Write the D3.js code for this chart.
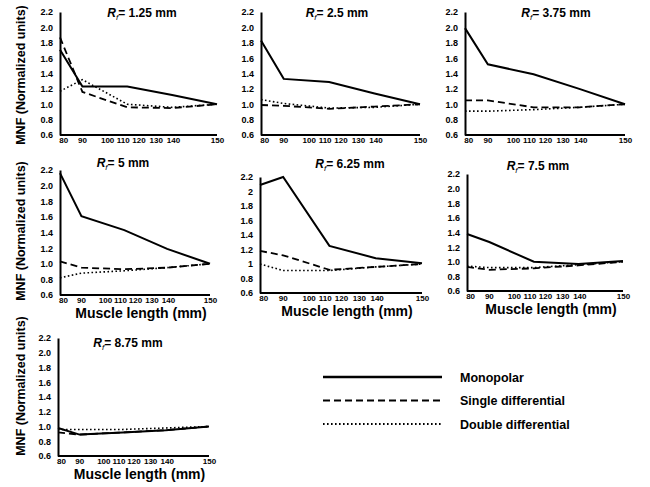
<!DOCTYPE html>
<html>
<head>
<meta charset="utf-8">
<script src="https://cdn.jsdelivr.net/npm/d3@7/dist/d3.min.js"></script>
<style>
  body { margin: 0; background: #fff; }
  svg { font-family: "Liberation Sans", Arial, sans-serif; font-weight: bold; }
</style>
</head>
<body>
<svg id="canvas" width="650" height="487"></svg>
<script>
// muscle lengths (mm) where MNF was computed
const lengths = [80, 90, 110, 130, 150]
const xTicks = [80, 90, 100, 110, 120, 130, 140, 150]
const yTicks = [0.6, 0.8, 1.0, 1.2, 1.4, 1.6, 1.8, 2.0, 2.2]

// fibre radius of each panel
const radii = ["1.25", "2.5", "3.75", "5", "6.25", "7.5", "8.75"]

// MNF (normalized) per panel, one value per muscle length
const monopolar = [
  [1.71, 1.23, 1.23, 1.12, 1.00],
  [1.83, 1.33, 1.29, 1.14, 1.00],
  [1.99, 1.52, 1.39, 1.20, 1.00],
  [2.16, 1.61, 1.43, 1.19, 1.00],
  [2.09, 2.20, 1.25, 1.08, 1.01],
  [1.38, 1.27, 1.00, 0.97, 1.01],
  [0.98, 0.89, 0.92, 0.95, 1.00]
]
const singleDiff = [
  [1.87, 1.16, 0.96, 0.95, 1.00],
  [0.99, 0.98, 0.94, 0.97, 1.00],
  [1.05, 1.05, 0.96, 0.96, 1.00],
  [1.03, 0.95, 0.93, 0.95, 1.00],
  [1.18, 1.12, 0.92, 0.96, 1.00],
  [0.93, 0.89, 0.91, 0.95, 1.00],
  [0.92, 0.89, 0.92, 0.95, 1.00]
]
const doubleDiff = [
  [1.17, 1.32, 1.00, 0.96, 1.00],
  [1.06, 1.01, 0.95, 0.96, 1.00],
  [0.91, 0.91, 0.93, 0.96, 1.00],
  [0.82, 0.88, 0.91, 0.95, 1.00],
  [1.00, 0.91, 0.91, 0.96, 1.00],
  [0.94, 0.92, 0.92, 0.96, 1.00],
  [0.96, 0.96, 0.96, 0.98, 1.00]
]

const seriesNames = ["Monopolar", "Single differential", "Double differential"]
const seriesData = [monopolar, singleDiff, doubleDiff]

// line styles
const styles = [
  { width: 2, dash: null },
  { width: 1.8, dash: "7,4" },
  { width: 1.6, dash: "1.6,2.4" }
]

// panel boxes in pixels (left, right, top = 2.2, bottom = 0.6)
const boxes = [
  { l: 60, r: 217, t: 12, b: 135, tx: 142, ty: 17, ym: 75, xl: false, fmt: ".1f" },
  { l: 261, r: 420, t: 12, b: 135, tx: 337, ty: 17, ym: null, xl: false, fmt: ".1f" },
  { l: 465, r: 625, t: 12, b: 135, tx: 556, ty: 17, ym: null, xl: false, fmt: ".1f" },
  { l: 60, r: 210, t: 170, b: 295, tx: 123, ty: 167, ym: 231, xl: true, fmt: ".1f" },
  { l: 260, r: 422, t: 177, b: 293, tx: 350, ty: 168, ym: null, xl: true, fmt: "" },
  { l: 467, r: 623, t: 174, b: 291, tx: 538, ty: 170, ym: null, xl: true, fmt: ".1f" },
  { l: 58, r: 209, t: 338, b: 456, tx: 128, ty: 347, ym: 386, xl: true, fmt: ".1f" }
]

// where the x tick labels sit along the axis (fraction of the axis length)
const labelFrac = [0.02, 0.14, 0.30, 0.40, 0.50, 0.61, 0.72, 1.0]

const svg = d3.select("#canvas")

boxes.forEach((box, i) => {
  const x = d3.scaleLinear().domain([80, 150]).range([box.l, box.r])
  const y = d3.scaleLinear().domain([0.6, 2.2]).range([box.b, box.t])
  const xLab = d3.scaleLinear().domain(xTicks)
    .range(labelFrac.map(f => box.l + f * (box.r - box.l)))

  const g = svg.append("g")

  // y axis
  const yAxis = g.append("g")
    .attr("transform", `translate(${box.l},0)`)
    .call(d3.axisLeft(y).tickValues(yTicks).tickSize(0).tickPadding(7)
      .tickFormat(d3.format(box.fmt)))
  yAxis.select(".domain").attr("stroke", "#000").attr("stroke-width", 2)
  yAxis.selectAll("text").attr("font-size", 9).attr("font-family", null)
    .attr("font-weight", "bold")

  // x axis, labels placed by their own scale
  const xAxis = g.append("g")
    .attr("transform", `translate(0,${box.b})`)
    .call(d3.axisBottom(xLab).tickValues(xTicks).tickSize(0).tickPadding(2))
  xAxis.select(".domain").attr("stroke", "#000").attr("stroke-width", 2)
    .attr("d", `M${box.l},0H${box.r}`)
  xAxis.selectAll("text").attr("font-size", 8).attr("font-family", null)
    .attr("font-weight", "bold")

  const line = d3.line()
    .x((d, j) => x(lengths[j]))
    .y(d => y(d))

  seriesData.forEach((s, k) => {
    g.append("path")
      .attr("d", line(s[i]))
      .attr("fill", "none")
      .attr("stroke", "#000")
      .attr("stroke-width", styles[k].width)
      .attr("stroke-dasharray", styles[k].dash)
  })

  // title R_f = ...
  const title = g.append("text")
    .attr("x", box.tx).attr("y", box.ty)
    .attr("text-anchor", "middle")
    .attr("font-size", 12)
  title.append("tspan").attr("font-style", "italic").text("R")
  title.append("tspan").attr("font-style", "italic").attr("font-weight", "normal")
    .attr("font-size", 8).attr("dy", 3).text("f")
  title.append("tspan").attr("dy", -3).text("= " + radii[i] + " mm")

  if (box.ym != null) {
    g.append("text")
      .attr("transform", `translate(25,${box.ym}) rotate(-90)`)
      .attr("text-anchor", "middle")
      .attr("font-size", 12.5)
      .text("MNF (Normalized units)")
  }
  if (box.xl) {
    g.append("text")
      .attr("x", (box.l + box.r) / 2 + 6)
      .attr("y", box.b + 23)
      .attr("text-anchor", "middle")
      .attr("font-size", 14)
      .text("Muscle length (mm)")
  }
})

// legend
const legY = d3.scalePoint().domain(seriesNames).range([377, 424])
const legend = svg.append("g")
seriesNames.forEach((name, k) => {
  legend.append("line")
    .attr("x1", 323).attr("x2", 442)
    .attr("y1", legY(name)).attr("y2", legY(name))
    .attr("stroke", "#000")
    .attr("stroke-width", styles[k].width + 0.4)
    .attr("stroke-dasharray", styles[k].dash)
  legend.append("text")
    .attr("x", 460).attr("y", legY(name) + 4.5)
    .attr("font-size", 12.5)
    .text(name)
})
</script>
</body>
</html>
